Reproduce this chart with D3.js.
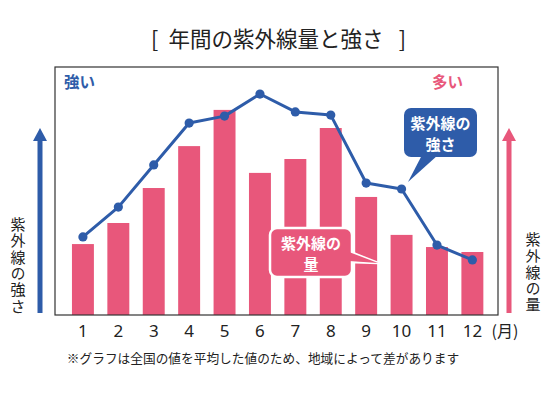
<!DOCTYPE html>
<html><head><meta charset="utf-8">
<script src="https://cdn.jsdelivr.net/npm/d3@7"></script>
<style>
body{margin:0;background:#fff;}
svg{display:block;font-family:"Noto Sans CJK JP","Noto Sans",sans-serif;}
</style></head>
<body>
<svg id="c" width="550" height="400"></svg>
<script>
const months = [1,2,3,4,5,6,7,8,9,10,11,12];
const uvAmount = [28.6,37.1,51.2,68.1,82.7,57.3,62.9,75.4,47.6,32.3,27.4,25.4];
const uvStrength = [31.5,43.5,60.5,77.4,80.2,89.1,81.9,80.6,53.2,50.8,28.2,22.2];
const tickLabels = ["1","2","3","4","5","6","7","8","9","10","11","12"];
const title = "年間の紫外線量と強さ";
const note = "※グラフは全国の値を平均した値のため、地域によって差があります";

const PINK = "#e8577b", BLUE = "#2e5ca9";
const svg = d3.select("#c");
const box = {l:55, r:498, t:67, b:315};

const x = d3.scaleBand().domain(months).range([58.5, 496.8]).paddingInner(0.38).paddingOuter(0.38);
const y = d3.scaleLinear().domain([0,100]).range([box.b, box.t]);

// title
svg.append("text").attr("x",276).attr("y",47).attr("text-anchor","middle")
  .attr("font-size",21.5).attr("fill","#222").text(title);
svg.append("text").attr("x",151).attr("y",47).attr("font-size",21.5).attr("fill","#222").text("[");
svg.append("text").attr("x",406).attr("y",47).attr("text-anchor","end").attr("font-size",21.5).attr("fill","#222").text("]");

// bars
svg.append("g").selectAll("rect").data(months).join("rect")
  .attr("x",d=>x(d)).attr("width",x.bandwidth())
  .attr("y",(d,i)=>y(uvAmount[i])).attr("height",(d,i)=>y(0)-y(uvAmount[i]))
  .attr("fill",PINK);

// frame
svg.append("rect").attr("x",box.l).attr("y",box.t).attr("width",box.r-box.l).attr("height",box.b-box.t)
  .attr("fill","none").attr("stroke","#333").attr("stroke-width",1.2);

// line
const cx = d => x(d)+x.bandwidth()/2;
const line = d3.line().x((d,i)=>cx(months[i])).y(d=>y(d));
svg.append("path").datum(uvStrength).attr("d",line).attr("fill","none")
  .attr("stroke",BLUE).attr("stroke-width",3).attr("stroke-linejoin","round");
svg.append("g").selectAll("circle").data(uvStrength).join("circle")
  .attr("cx",(d,i)=>cx(months[i])).attr("cy",d=>y(d)).attr("r",4.6).attr("fill",BLUE);

// axis labels
const ax = svg.append("g").attr("transform",`translate(0,${box.b})`)
  .call(d3.axisBottom(x).tickSize(0).tickFormat((d,i)=>tickLabels[i]));
ax.select(".domain").remove();
ax.selectAll("text").attr("font-size",17).attr("fill","#222")
  .attr("font-family","'Noto Sans','DejaVu Sans',sans-serif").attr("dy","0").attr("y",22);
svg.append("text").attr("x",505).attr("y",337).attr("text-anchor","middle")
  .attr("font-size",16).attr("fill","#222").text("(月)");

// corner labels
svg.append("text").attr("x",64).attr("y",88).attr("font-size",15.5).attr("font-weight","bold")
  .attr("fill",BLUE).text("強い");
svg.append("text").attr("x",463).attr("y",88).attr("text-anchor","end").attr("font-size",15.5)
  .attr("font-weight","bold").attr("fill",PINK).text("多い");

// arrows
function arrow(xp, color){
  svg.append("rect").attr("x",xp-2.5).attr("y",138).attr("width",5).attr("height",175).attr("fill",color);
  svg.append("path").attr("d",`M${xp},128 L${xp+7},141 L${xp-7},141 Z`).attr("fill",color);
}
arrow(40, BLUE);
arrow(509, PINK);

function vtext(xp, y0, str){
  svg.append("text").attr("x",xp).attr("y",y0)
    .attr("font-size",15).attr("fill","#222")
    .style("writing-mode","vertical-rl").style("text-orientation","upright")
    .attr("letter-spacing",1.3).text(str);
}
vtext(18, 217, "紫外線の強さ");
vtext(533, 232, "紫外線の量");

// blue callout
svg.append("path").attr("d","M422,155 L408,182 L438,155 Z").attr("fill",BLUE);
svg.append("rect").attr("x",404).attr("y",108).attr("width",73).attr("height",49).attr("rx",7).attr("fill",BLUE);
svg.append("text").attr("x",440.5).attr("y",129).attr("text-anchor","middle").attr("font-size",15)
  .attr("font-weight","bold").attr("fill","#fff").text("紫外線の");
svg.append("text").attr("x",440.5).attr("y",150).attr("text-anchor","middle").attr("font-size",15)
  .attr("font-weight","bold").attr("fill","#fff").text("強さ");

// pink callout
const pc = svg.append("g");
pc.append("path").attr("d","M348,251 L378,263 L348,262 Z").attr("fill",PINK).attr("stroke","#fff").attr("stroke-width",2.5).attr("stroke-linejoin","round");
pc.append("rect").attr("x",270).attr("y",228).attr("width",82).attr("height",49).attr("rx",7)
  .attr("fill",PINK).attr("stroke","#fff").attr("stroke-width",2.5);
pc.append("path").attr("d","M349,252 L378,263 L349,261 Z").attr("fill",PINK);
pc.append("text").attr("x",311).attr("y",249).attr("text-anchor","middle").attr("font-size",15)
  .attr("font-weight","bold").attr("fill","#fff").text("紫外線の");
pc.append("text").attr("x",311).attr("y",270).attr("text-anchor","middle").attr("font-size",15)
  .attr("font-weight","bold").attr("fill","#fff").text("量");

// note
svg.append("text").attr("x",263).attr("y",363).attr("text-anchor","middle").attr("font-size",12.7)
  .attr("fill","#222").text(note);
</script>
</body></html>
